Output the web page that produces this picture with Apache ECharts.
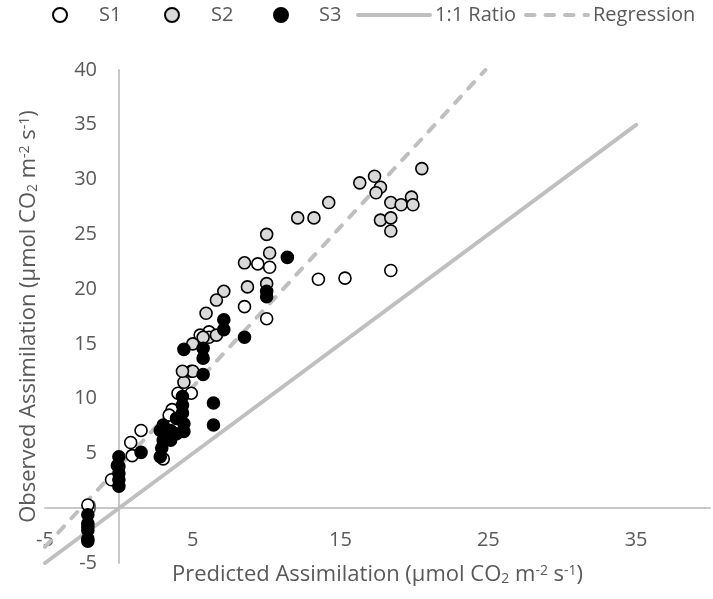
<!DOCTYPE html>
<html>
<head>
<meta charset="utf-8">
<script src="https://cdn.jsdelivr.net/npm/echarts@6/dist/echarts.min.js"></script>
<style>
html,body{margin:0;padding:0;background:#fff;}
#c{width:713px;height:599px;}
</style>
</head>
<body>
<div id="c"></div>
<script>
// Series names
const seriesNames = ['S1', 'S2', 'S3', '1:1 Ratio', 'Regression'];

// Observed vs predicted (x = predicted, y = observed)
const s1Data = [[9.4,22.3],[10.2,22.0],[13.5,20.9],[15.3,21.0],[18.4,21.7],[8.5,18.4],[10.0,17.3],[6.1,16.1],[5.5,15.8],[4.9,10.5],[4.0,10.5],[3.6,9.0],[3.4,8.5],[0.8,6.0],[1.5,7.1],[0.9,4.8],[-0.5,2.6],[3.0,4.5],[-2.1,0.3],[-2.1,-1.7],[0.0,3.8],[4.9,12.5]];
const s2Data = [[20.5,31.0],[17.3,30.3],[16.3,29.7],[17.7,29.3],[17.4,28.8],[19.8,28.4],[18.4,27.9],[19.1,27.7],[19.9,27.7],[14.2,27.9],[12.1,26.5],[13.2,26.5],[17.7,26.3],[18.4,26.5],[18.4,25.3],[10.0,25.0],[10.2,23.3],[8.5,22.4],[8.7,20.2],[10.0,20.5],[7.1,19.8],[6.6,19.0],[5.9,17.8],[5.0,15.0],[6.1,15.6],[6.6,15.8],[5.7,15.6],[5.0,12.5],[4.4,11.5],[4.3,12.5]];
const s3Data = [[11.4,22.9],[10.0,19.8],[10.0,19.3],[7.1,17.2],[7.1,16.3],[8.5,15.6],[5.7,14.6],[4.4,14.5],[5.7,13.7],[5.7,12.2],[6.4,9.6],[6.4,7.6],[4.3,10.2],[4.3,9.4],[4.3,8.7],[3.9,8.2],[4.4,7.7],[3.0,7.6],[2.8,7.1],[3.5,7.1],[3.9,6.8],[4.4,7.0],[3.0,6.2],[3.5,6.2],[2.9,5.5],[2.8,4.7],[1.5,5.1],[0.0,4.7],[-0.1,3.9],[0.0,3.2],[0.0,2.6],[0.0,2.0],[-2.1,-0.6],[-2.1,-1.4],[-2.1,-2.0],[-2.1,-2.8],[-2.1,-3.0]];
const ratioLine = [[-5,-5],[35,35]];
const regressionLine = [[-5,-3.53],[24.8,40]];

// Axis ranges / ticks
const xMin = -5, xMax = 40, xStep = 5;
const yMin = -5, yMax = 40, yStep = 5;
const xTitle = 'Predicted Assimilation (µmol CO{sub|2} m{sup|-2} s{sup|-1})';
const yTitle = 'Observed Assimilation (µmol CO{sub|2} m{sup|-2} s{sup|-1})';

const FONT = '"Open Sans", sans-serif';
const TXT = '#595959';
const AX = '#c8c8c8';
const titleRich = {
  sub: {fontSize: 14, fontFamily: FONT, color: TXT, verticalAlign: 'bottom', lineHeight: 15},
  sup: {fontSize: 14, fontFamily: FONT, color: TXT, verticalAlign: 'top', lineHeight: 15}
};

function scatterSeries(name, data, fill) {
  return {
    name: name, type: 'scatter', data: data, symbol: 'circle', symbolSize: 12, z: 3,
    itemStyle: {color: fill, borderColor: '#000', borderWidth: 1.6, opacity: 1},
    emphasis: {disabled: true}
  };
}

function legendItem(name, left, iw, pad, lineType) {
  const item = {
    data: [name], top: 5, left: left, itemWidth: iw, itemHeight: 14, itemGap: 0,
    selectedMode: false, padding: 0,
    textStyle: {fontSize: 20, fontFamily: FONT, color: TXT, padding: [0, 0, 0, pad]}
  };
  if (lineType) {
    item.itemStyle = {opacity: 0};
    item.lineStyle = {width: 4, color: '#bfbfbf', type: lineType, cap: 'round'};
  }
  return item;
}

const option = {
  animation: false,
  backgroundColor: '#fff',
  legend: [
    legendItem(seriesNames[0], 52, 14, 27),
    legendItem(seriesNames[1], 164, 14, 27),
    legendItem(seriesNames[2], 273, 14, 26),
    legendItem(seriesNames[3], 356, 72, 0, 'solid'),
    legendItem(seriesNames[4], 524, 62, 0, [8.5, 11])
  ],
  grid: {left: 45, right: 3, top: 70, bottom: 36, containLabel: false, outerBoundsMode: 'none'},
  xAxis: {
    type: 'value', min: xMin, max: xMax, interval: xStep,
    axisLine: {show: true, onZero: true, lineStyle: {color: AX, width: 2}},
    axisTick: {show: false}, splitLine: {show: false},
    axisLabel: {
      margin: -33, fontSize: 20, fontFamily: FONT, color: TXT,
      formatter: function (v) { return (Math.round(v / 5) % 2 !== 0) ? String(v) : ''; }
    },
    name: xTitle, nameLocation: 'middle', nameGap: 1,
    nameTextStyle: {fontSize: 22, fontFamily: FONT, color: TXT, rich: titleRich}
  },
  yAxis: {
    type: 'value', min: yMin, max: yMax, interval: yStep,
    axisLine: {show: true, onZero: true, lineStyle: {color: AX, width: 2}},
    axisTick: {show: false}, splitLine: {show: false},
    axisLabel: {margin: -52, fontSize: 20, fontFamily: FONT, color: TXT},
    name: yTitle, nameLocation: 'middle', nameGap: 5,
    nameTextStyle: {fontSize: 22, fontFamily: FONT, color: TXT, rich: titleRich}
  },
  series: [
    scatterSeries(seriesNames[0], s1Data, '#ffffff'),
    scatterSeries(seriesNames[1], s2Data, '#d9d9d9'),
    scatterSeries(seriesNames[2], s3Data, '#000000'),
    {
      name: seriesNames[3], type: 'line', data: ratioLine, symbol: 'none', z: 1,
      lineStyle: {color: '#bfbfbf', width: 4, cap: 'round'}, itemStyle: {color: '#bfbfbf'},
      emphasis: {disabled: true}
    },
    {
      name: seriesNames[4], type: 'line', data: regressionLine, symbol: 'none', z: 1,
      lineStyle: {color: '#bfbfbf', width: 4, type: [8.5, 11], cap: 'round'}, itemStyle: {color: '#bfbfbf'},
      emphasis: {disabled: true}
    }
  ]
};

const chart = echarts.init(document.getElementById('c'), null, {renderer: 'canvas'});
chart.setOption(option);
</script>
</body>
</html>
